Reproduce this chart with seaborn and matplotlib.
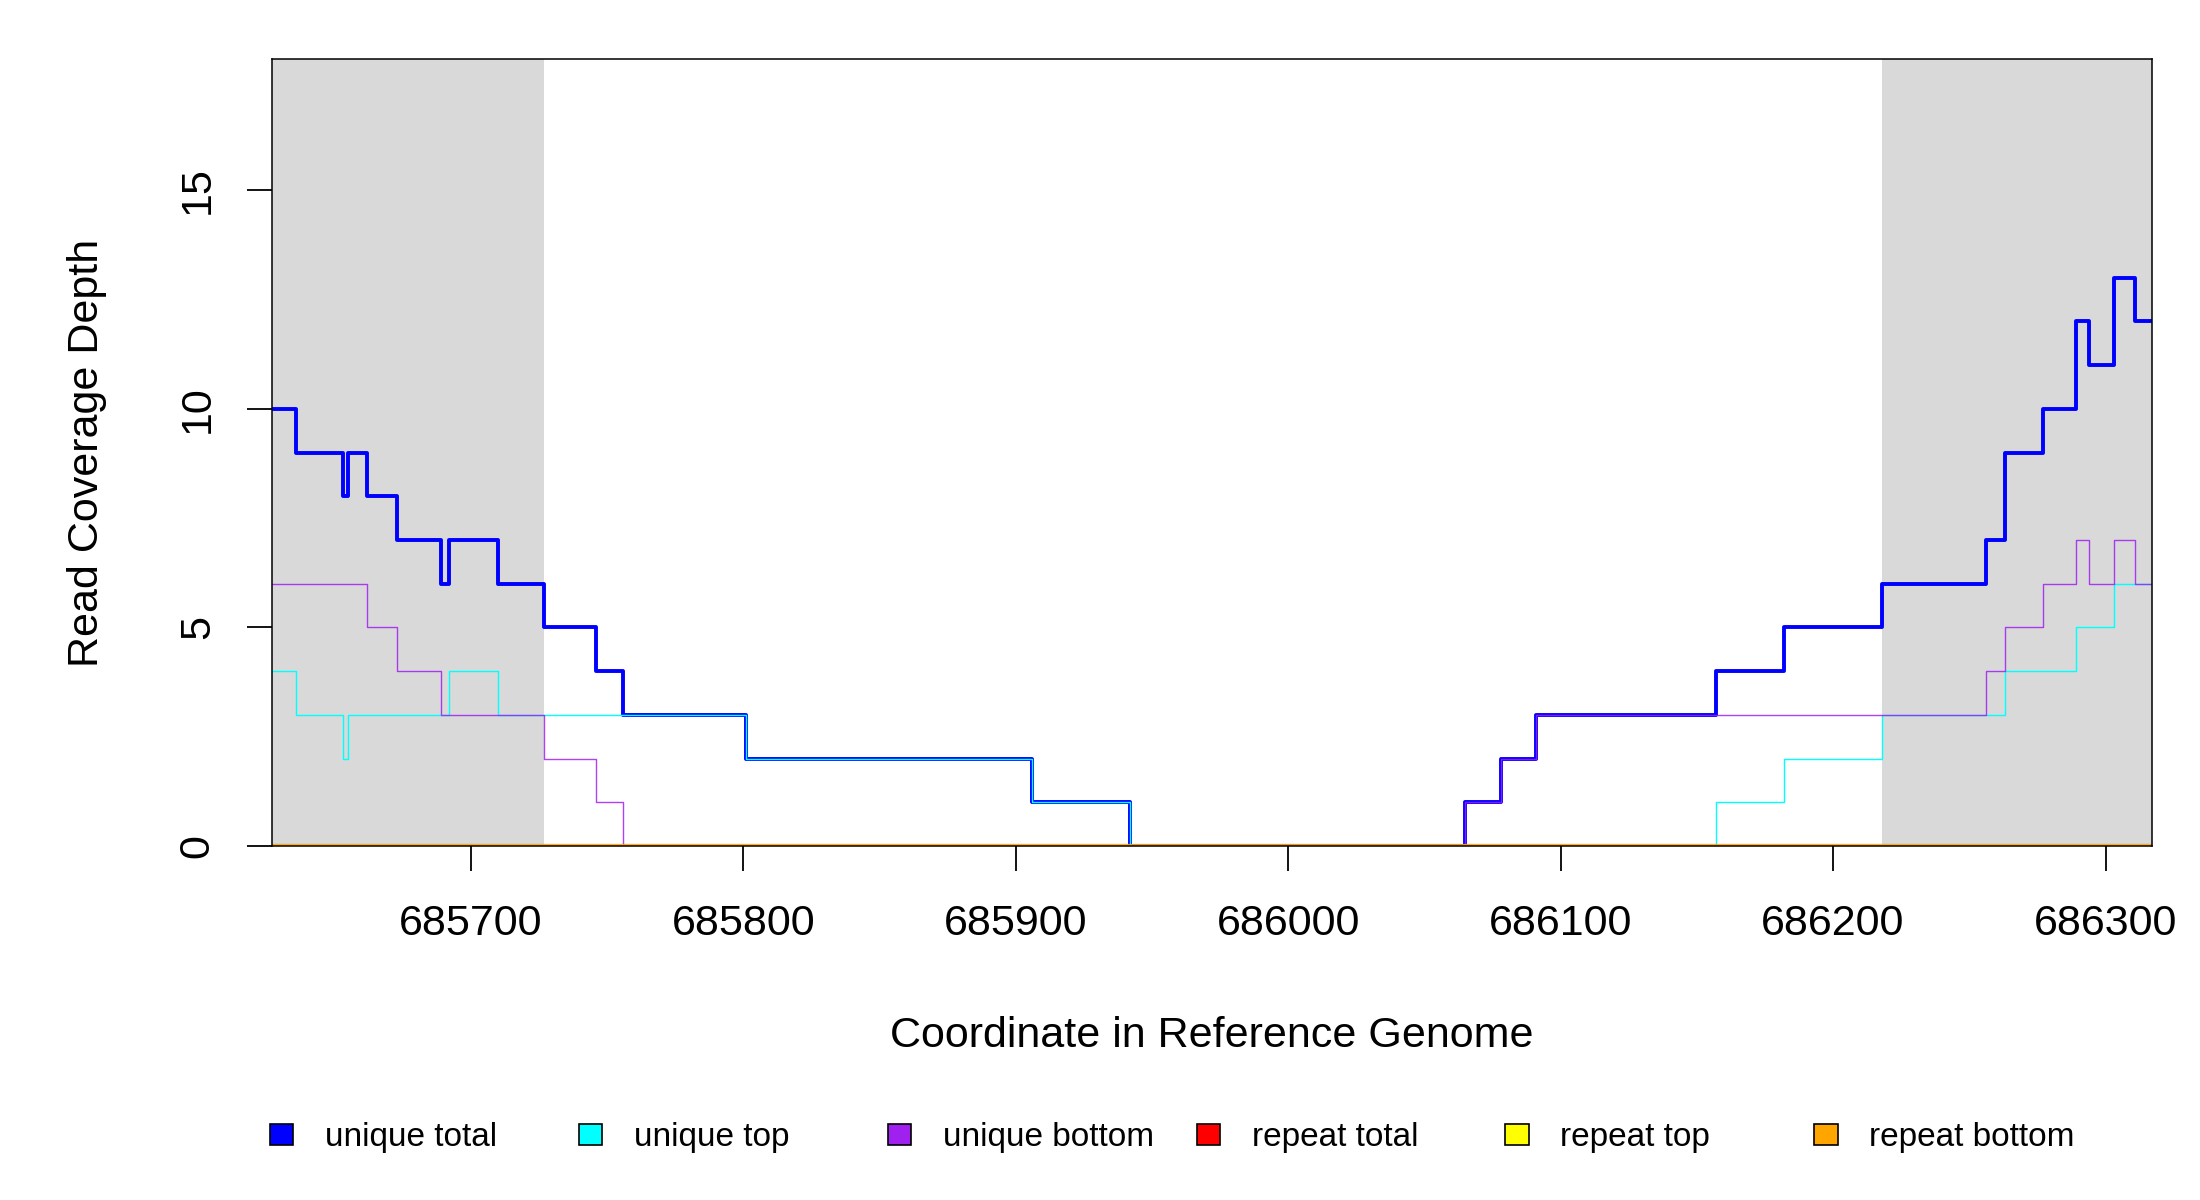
import matplotlib
matplotlib.use("Agg")
import matplotlib.pyplot as plt
from matplotlib.patches import Patch
import pandas as pd
import seaborn as sns

# step start positions (last one is the right end of the window)
pos = [685627, 685636, 685653, 685655, 685662, 685673, 685689, 685692, 685710,
       685727, 685746, 685756, 685801, 685906, 685942, 686065, 686078, 686091,
       686157, 686182, 686218, 686256, 686263, 686277, 686289, 686294, 686303,
       686311, 686317]

unique_total = [10, 9, 8, 9, 8, 7, 6, 7, 6, 5, 4, 3, 2, 1, 0, 1, 2, 3, 4, 5,
                6, 7, 9, 10, 12, 11, 13, 12]
unique_top = [4, 3, 2, 3, 3, 3, 3, 4, 3, 3, 3, 3, 2, 1, 0, 0, 0, 0, 1, 2,
              3, 3, 4, 4, 5, 5, 6, 6]
unique_bottom = [6, 6, 6, 6, 5, 4, 3, 3, 3, 2, 1, 0, 0, 0, 0, 1, 2, 3, 3, 3,
                 3, 4, 5, 6, 7, 6, 7, 6]
repeat_total = [0] * 28
repeat_top = [0] * 28
repeat_bottom = [0] * 28

# flanking windows shaded grey
shaded = [(685627, 685727), (686218, 686317)]

labels = ['unique total', 'unique top', 'unique bottom',
          'repeat total', 'repeat top', 'repeat bottom']
colors = ['#0000FF', '#00FFFF', '#A020F0', '#FF0000', '#FFFF00', '#FFA500']

sns.set_theme(style='white')
plt.rcParams['font.family'] = ['Liberation Sans', 'DejaVu Sans']
plt.rcParams['text.color'] = 'black'
plt.rcParams['axes.labelcolor'] = 'black'

fig = plt.figure(figsize=(22, 12), dpi=100)
ax = fig.add_axes([0.1236, 0.295, 0.8545, 0.6558])

for a, b in shaded:
    ax.axvspan(a, b, color='#D9D9D9', lw=0, zorder=0)

series = [unique_total, unique_top, unique_bottom, repeat_total, repeat_top, repeat_bottom]
widths = [2.8, 1.0, 1.0, 3.0, 3.0, 3.0]
alphas = [1, 1, 0.85, 0.55, 0.55, 0.6]
for vals, col, lw, al in zip(series, colors, widths, alphas):
    df = pd.DataFrame({'pos': pos, 'depth': vals + [vals[-1]]})
    sns.lineplot(data=df, x='pos', y='depth', ax=ax, color=col, lw=lw, alpha=al,
                 drawstyle='steps-post', estimator=None, legend=False)

ax.set_xlim(pos[0], pos[-1])
ax.set_ylim(0, 18)
ax.set_xticks([685700, 685800, 685900, 686000, 686100, 686200, 686300])
ax.set_yticks([0, 5, 10, 15])
ax.set_yticklabels(['0', '5', '10', '15'], rotation=90, va='center')
ax.tick_params(axis='both', direction='out', length=18, width=1.3, color='black',
               labelsize=31, labelcolor='black')
ax.tick_params(axis='x', pad=24)
ax.tick_params(axis='y', pad=21)
ax.tick_params(left=True, bottom=True)
for s in ax.spines.values():
    s.set_color('black')
    s.set_linewidth(1.1)

ax.set_xlabel('Coordinate in Reference Genome', fontsize=31, color='black')
ax.set_ylabel('Read Coverage Depth', fontsize=31, color='black')
ax.xaxis.set_label_coords(0.5, -0.2414)
ax.xaxis.label.set_va('center')
ax.yaxis.set_label_coords(-0.0984, 0.5)
ax.yaxis.label.set_va('center')

for i, (lab, col) in enumerate(zip(labels, colors)):
    fig.legend(handles=[Patch(facecolor=col, edgecolor='black', lw=1.2, label=lab)],
               loc='center left', bbox_to_anchor=(0.1227 + i * 0.1404, 0.0517),
               frameon=False, fontsize=24, handlelength=0.7, handleheight=0.6,
               handletextpad=0.95, borderpad=0, borderaxespad=0, labelcolor='black')

fig.savefig('out.png', dpi=100)
